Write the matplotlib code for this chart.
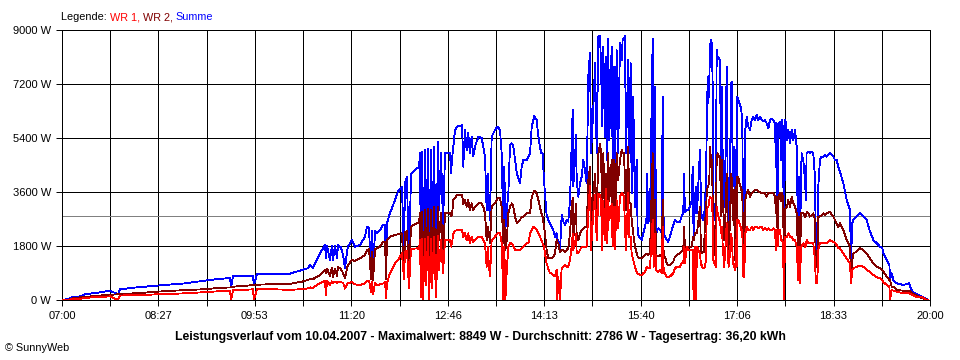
import matplotlib
matplotlib.use("Agg")
import matplotlib.pyplot as plt

# minutes after 07:00
t_min = [0.0, 5.4, 9.9, 16.2, 20.7, 32.3, 43.1, 50.3, 52.1, 63.8, 74.6, 85.4, 95.3, 110.5, 125.8, 140.2, 151.0, 151.9, 153.7, 164.4,
         171.6, 172.5, 175.2, 186.9, 195.9, 204.9, 215.7, 221.1, 222.9, 225.5, 227.3, 231.8, 236.3, 237.2, 238.1, 240.8, 242.6, 243.5, 245.3, 247.1,
         248.0, 250.7, 252.5, 254.3, 256.1, 257.0, 260.6, 263.3, 267.8, 272.3, 274.1, 275.9, 277.7, 278.6, 279.5, 281.3, 283.1, 285.8, 288.5, 290.3,
         291.2, 292.0, 294.7, 299.2, 301.9, 305.5, 307.3, 308.2, 310.0, 311.8, 313.6, 319.0, 320.8, 321.7, 322.6, 323.5, 324.4, 326.2, 327.1, 328.9,
         329.8, 331.6, 332.5, 334.3, 336.1, 337.9, 338.8, 340.6, 342.4, 344.2, 348.7, 349.6, 350.5, 351.6, 353.2, 355.0, 357.7, 359.5, 360.6, 362.1,
         363.6, 365.0, 366.6, 368.1, 369.6, 371.1, 374.1, 377.1, 378.6, 380.1, 381.6, 382.5, 383.7, 384.6, 386.1, 389.1, 391.2, 393.6, 395.1, 396.6,
         397.5, 398.4, 399.7, 401.1, 402.6, 404.2, 405.6, 407.1, 408.7, 411.6, 413.1, 414.6, 417.6, 419.1, 420.6, 422.1, 423.5, 424.4, 425.3, 426.5,
         428.1, 429.5, 430.7, 431.9, 433.1, 434.0, 435.5, 436.9, 438.5, 440.0, 441.5, 443.0, 444.5, 445.1, 446.0, 447.5, 449.0, 450.5, 452.0, 453.5,
         454.9, 456.5, 458.0, 458.9, 459.4, 461.0, 461.9, 462.5, 464.0, 465.5, 467.0, 468.5, 470.0, 471.5, 473.0, 474.5, 475.4, 477.4, 479.0, 480.5,
         482.0, 483.5, 484.4, 485.5, 486.4, 487.9, 488.8, 490.0, 490.9, 491.8, 493.0, 493.9, 494.8, 496.0, 496.9, 498.4, 499.8, 501.4, 502.9, 503.8,
         505.0, 505.9, 506.8, 508.8, 509.7, 511.0, 511.9, 513.3, 514.9, 516.4, 517.3, 519.4, 520.9, 522.3, 523.9, 525.4, 525.9, 526.8, 528.4, 529.9,
         530.8, 531.7, 532.9, 533.8, 535.8, 537.4, 538.9, 539.8, 540.7, 541.9, 543.4, 544.8, 546.3, 549.3, 550.8, 552.4, 555.3, 556.8, 558.3, 558.9,
         559.8, 561.3, 562.8, 564.3, 565.8, 566.7, 567.3, 567.9, 568.8, 569.7, 570.6, 573.3, 574.2, 574.8, 575.7, 576.9, 577.8, 578.7, 579.3, 580.2,
         580.8, 581.7, 582.3, 583.2, 584.1, 584.7, 585.3, 586.2, 586.8, 587.7, 588.3, 589.2, 590.4, 591.3, 592.2, 593.1, 593.7, 594.2, 595.1, 596.0,
         597.3, 598.2, 599.1, 600.3, 601.2, 602.1, 602.7, 603.6, 604.5, 605.0, 605.7, 606.3, 606.8, 607.7, 608.6, 609.9, 610.4, 611.3, 612.2, 613.1,
         614.0, 615.3, 616.7, 618.2, 619.8, 621.2, 622.7, 624.2, 625.7, 627.2, 628.7, 630.2, 631.7, 633.2, 634.7, 636.2, 637.7, 639.2, 640.7, 641.6,
         642.2, 643.1, 644.0, 645.2, 646.1, 647.0, 647.9, 648.8, 649.7, 650.6, 651.5, 652.7, 654.2, 655.7, 657.2, 658.7, 660.2, 661.6, 662.5, 663.2,
         664.1, 664.7, 666.1, 667.6, 668.5, 669.1, 670.6, 672.2, 673.7, 675.1, 676.6, 677.5, 678.7, 679.6, 681.1, 682.6, 684.1, 685.6, 687.1, 690.1,
         693.1, 694.6, 696.1, 697.6, 699.1, 702.1, 705.1, 706.6, 708.1, 709.0, 710.2, 711.1, 714.1, 717.1, 720.1, 723.1, 726.1, 729.1, 732.2, 735.1,
         737.2, 738.1, 741.1, 743.5, 744.1, 745.6, 747.1, 750.1, 756.1, 761.1, 764.1, 767.1, 773.1, 776.1, 778.2]

summe = [0, 30, 110, 120, 190, 245, 310, 190, 355, 410, 445, 477, 510, 555, 633, 700, 733, 422, 800, 800,
         800, 500, 867, 880, 870, 880, 1000, 1060, 1167, 1060, 1220, 1556, 1833, 1400, 1800, 1333, 1800, 1333, 1800, 1400,
         1833, 1750, 1500, 1056, 1600, 1778, 2000, 1778, 1830, 2111, 2444, 2400, 800, 2300, 900, 2300, 2220, 2330, 2500, 2500,
         900, 2560, 2890, 3333, 3611, 3780, 1500, 3900, 4100, 900, 4200, 4390, 4400, 4900, 800, 4950, 700, 5000, 1500, 5050,
         600, 5000, 1300, 5100, 700, 5280, 3000, 4890, 2500, 4890, 4890, 4220, 4700, 5110, 5670, 5780, 5800, 5830, 4444, 5670,
         5000, 5560, 4890, 5440, 4780, 5110, 5440, 5400, 5110, 4780, 3000, 4220, 3220, 2670, 5440, 5670, 5780, 5670, 4890, 2220,
         4440, 2330, 3000, 3555, 5170, 5220, 5110, 4670, 4220, 3890, 4440, 4670, 4670, 4780, 4890, 5780, 6000, 6130, 6050, 6000,
         5440, 5110, 4890, 4890, 4000, 3555, 2830, 2670, 2555, 2440, 2333, 2110, 2220, 2000, 2000, 1600, 2833, 2610, 2500, 2667,
         2610, 3330, 5220, 6350, 3780, 4670, 5500, 4000, 3440, 3890, 4110, 4670, 4330, 3890, 7500, 8250, 4890, 6330, 7890, 4890,
         8780, 8800, 7780, 5780, 8440, 5440, 8110, 4670, 8720, 5330, 7110, 8440, 4670, 7780, 4110, 8330, 4890, 8560, 8000, 8670,
         8720, 8800, 4890, 8000, 4890, 7890, 3560, 6780, 3110, 4670, 2220, 2055, 2000, 2220, 2440, 2780, 4220, 2560, 2780, 6670,
         8720, 2220, 7110, 2220, 2390, 2330, 2220, 6780, 2220, 2110, 2000, 1940, 2110, 2500, 2670, 2610, 2610, 2780, 2890, 4220,
         2940, 3000, 3000, 3110, 3300, 4440, 2670, 2000, 3440, 3780, 2890, 5000, 3220, 2830, 2670, 2830, 3110, 4110, 5440, 7440,
         6550, 7330, 8440, 8670, 8500, 7110, 3220, 2890, 2670, 4000, 8330, 8110, 8050, 8000, 4440, 7110, 4670, 4000, 3110, 4220,
         7780, 3670, 2670, 4220, 7220, 7280, 3780, 5110, 3110, 2220, 5000, 2670, 6780, 6670, 6560, 6440, 6330, 6000, 2000, 2000,
         5670, 6110, 5780, 5670, 6000, 6110, 6000, 6170, 6000, 6110, 6000, 5950, 6000, 5890, 5720, 6000, 6050, 6000, 5890, 4440,
         5890, 2670, 5890, 5950, 4670, 6000, 5670, 1110, 6000, 5890, 5330, 5670, 5220, 5670, 5330, 5670, 5110, 1670, 4110, 1555,
         4220, 4890, 4670, 4000, 3330, 4890, 4940, 4890, 4940, 4890, 4110, 1780, 1670, 3780, 4670, 4780, 4780, 4830, 4780, 4890,
         4780, 4670, 4670, 4440, 4278, 3889, 3333, 3167, 3000, 1333, 2556, 2667, 2778, 2889, 2778, 2667, 2278, 2000, 1889, 1778,
         1722, 1556, 1333, 1167, 667, 889, 667, 556, 500, 556, 278, 222, 111, 56, 0]

wr2 = [0, 10, 55, 90, 100, 145, 170, 190, 195, 222, 245, 278, 300, 330, 355, 400, 420, 420, 445, 470,
       500, 500, 510, 525, 530, 540, 611, 670, 700, 690, 740, 830, 1000, 900, 1050, 800, 1080, 750, 1050, 800,
       1100, 1030, 900, 722, 1050, 1167, 1333, 1300, 1390, 1500, 1667, 1700, 700, 1600, 650, 1700, 1720, 1780, 1950, 1950,
       700, 2000, 2110, 2170, 2190, 2220, 800, 2250, 2300, 800, 2450, 2556, 2600, 2900, 600, 2950, 500, 3000, 900, 3050,
       500, 3000, 800, 3100, 600, 3100, 2000, 2890, 1500, 2900, 2900, 2800, 2850, 3333, 3400, 3500, 3500, 3500, 3200, 3330,
       3110, 3330, 3000, 3220, 3000, 3110, 3220, 3220, 3110, 2890, 2000, 2440, 2220, 1890, 3110, 3220, 3390, 3390, 3110, 1890,
       2670, 1670, 2000, 2890, 3110, 3220, 3110, 2780, 2555, 2670, 2780, 2780, 2890, 2890, 2890, 3440, 3560, 3630, 3630, 3560,
       3330, 3110, 2890, 2780, 2440, 2220, 1670, 1390, 1390, 1390, 1450, 1555, 2000, 1890, 1890, 1600, 1670, 1670, 1610, 1670,
       1720, 2220, 3110, 3400, 2000, 2670, 3200, 2110, 2000, 2220, 2330, 2390, 2440, 2440, 4000, 4440, 2600, 3440, 4200, 2800,
       4890, 5220, 4900, 2700, 4890, 3000, 4200, 2800, 4890, 3300, 4000, 4670, 2800, 4670, 2330, 4890, 4000, 4670, 5000, 4890,
       4890, 4000, 3000, 5110, 3220, 3220, 2670, 2220, 1780, 1560, 1450, 1390, 1390, 1450, 1500, 1550, 1550, 1500, 1560, 3700,
       4890, 1560, 3330, 1500, 1450, 1500, 1450, 3330, 1450, 1440, 1220, 1170, 1170, 1280, 1440, 1500, 1560, 1610, 1670, 2440,
       1780, 1780, 1780, 1780, 1780, 2000, 2110, 2000, 2220, 2220, 2220, 3110, 1560, 1560, 1610, 1610, 2670, 2890, 3500, 3780,
       3780, 4000, 5110, 4670, 4670, 3330, 2670, 1780, 1500, 2500, 4780, 4890, 4780, 4780, 2800, 4670, 3110, 3110, 2000, 2670,
       4220, 2440, 1560, 2670, 4220, 4000, 2670, 3670, 2000, 1330, 3780, 1560, 4110, 4110, 3890, 3780, 3670, 3670, 1300, 1300,
       3330, 3560, 3670, 3440, 3560, 3610, 3670, 3670, 3610, 3610, 3560, 3560, 3560, 3440, 3560, 3560, 3560, 3560, 3440, 2890,
       3440, 2110, 3440, 3560, 3300, 3560, 3440, 1000, 3000, 3110, 3110, 3330, 3110, 3440, 3220, 3110, 2890, 1330, 2780, 1110,
       2890, 2890, 2890, 2780, 2780, 2940, 2890, 2780, 2830, 2890, 2670, 1110, 1110, 2780, 2780, 2830, 2890, 2830, 2890, 2940,
       2780, 2670, 2550, 2440, 2556, 2333, 2000, 1900, 1778, 889, 1333, 1556, 1611, 1722, 1667, 1556, 1389, 1222, 1111, 1056,
       1000, 950, 778, 667, 667, 444, 444, 333, 311, 311, 222, 167, 56, 22, 0]

wr1 = [0, 10, 30, 35, 70, 100, 120, 0, 150, 160, 170, 190, 200, 222, 255, 290, 300, 0, 333, 340,
       355, 0, 355, 360, 350, 340, 360, 390, 420, 400, 450, 560, 640, 150, 640, 500, 620, 560, 620, 570,
       620, 590, 580, 380, 520, 560, 600, 520, 500, 560, 640, 650, 250, 620, 200, 560, 500, 520, 550, 600,
       60, 560, 890, 1220, 1333, 1556, 700, 1600, 1650, 400, 1700, 1722, 1700, 2000, 100, 2050, 0, 2050, 500, 2100,
       0, 2050, 400, 2100, 100, 2150, 1000, 2000, 900, 2000, 2000, 1780, 1900, 2220, 2300, 2333, 2333, 2333, 2100, 2220,
       2000, 2220, 1890, 2110, 1940, 2000, 2110, 2110, 2000, 1890, 1110, 1780, 1110, 780, 2000, 2110, 2220, 2220, 1890, 0,
       1780, 0, 1000, 1780, 1890, 1890, 1780, 1670, 1670, 1670, 1720, 1780, 1890, 1890, 2220, 2333, 2440, 2440, 2390, 2333,
       2220, 2110, 2000, 1890, 1780, 1560, 1220, 1055, 890, 890, 830, 780, 1000, 0, 780, 0, 1055, 1110, 1170, 1110,
       1110, 1333, 1780, 2200, 1670, 1850, 2200, 1555, 1555, 1670, 1780, 1780, 1780, 1780, 3000, 3800, 1670, 2900, 3500, 2000,
       3550, 3500, 3300, 1670, 3300, 2000, 3700, 1880, 3300, 2670, 2900, 3200, 1780, 3100, 1700, 3330, 2400, 3440, 3560, 3560,
       3440, 2400, 1670, 3560, 2110, 2110, 1560, 1330, 1110, 940, 890, 833, 833, 890, 940, 1110, 1110, 1050, 1050, 2220,
       2670, 1110, 2220, 1000, 940, 1000, 890, 2440, 890, 890, 780, 780, 780, 890, 1050, 1110, 1110, 1220, 1220, 1780,
       1220, 1780, 1670, 1670, 1670, 1670, 440, 0, 1780, 0, 1780, 1555, 1170, 1170, 1055, 1055, 1110, 1333, 2670, 3110,
       3110, 3330, 3440, 3390, 3390, 2670, 1330, 1220, 1170, 1110, 3110, 2900, 2670, 2670, 2220, 2440, 1780, 1560, 1110, 1670,
       2560, 1560, 1110, 1560, 2220, 2000, 1330, 1110, 1110, 1000, 2000, 1110, 2670, 2670, 2560, 2440, 2330, 2330, 780, 780,
       2220, 2440, 2333, 2333, 2440, 2333, 2440, 2440, 2390, 2440, 2440, 2333, 2390, 2333, 2390, 2333, 2333, 2390, 2333, 1670,
       2333, 1780, 2333, 2333, 2000, 2000, 1890, 0, 2110, 2110, 2110, 2220, 2110, 2110, 2000, 2000, 1780, 670, 1780, 550,
       1780, 1780, 1890, 1780, 1780, 2000, 1890, 1890, 1890, 1890, 1330, 555, 555, 1670, 1890, 1890, 1890, 1890, 1890, 2000,
       1940, 1890, 1830, 1720, 1722, 1556, 1389, 1300, 1222, 556, 1000, 1056, 1111, 1133, 1111, 1000, 944, 833, 756, 722,
       667, 600, 500, 444, 0, 333, 311, 278, 222, 222, 167, 111, 89, 22, 0]

average_w = 2786
x_tick_labels = ["07:00", "08:27", "09:53", "11:20", "12:46", "14:13", "15:40", "17:06", "18:33", "20:00"]
y_ticks = [0, 1800, 3600, 5400, 7200, 9000]
y_tick_labels = ["0 W", "1800 W", "3600 W", "5400 W", "7200 W", "9000 W"]
legend_parts = [("Legende: ", "#000000"), ("WR 1, ", "#ff0000"), ("WR 2, ", "#800000"), ("Summe", "#0000ff")]
title_text = ("Leistungsverlauf vom 10.04.2007 - Maximalwert: 8849 W - "
              "Durchschnitt: 2786 W - Tagesertrag: 36,20 kWh")
copyright_text = "\u00a9 SunnyWeb"

plt.rcParams['font.family'] = ['Liberation Sans', 'DejaVu Sans']

W, H = 960, 360
fig = plt.figure(figsize=(W / 100, H / 100), dpi=100)
fig.patch.set_facecolor('white')
ax = fig.add_axes([62 / W, 60 / H, 868 / W, 270 / H])
span = 780.0
ax.set_xlim(0, span)
ax.set_ylim(0, 9000)

n_lab = len(x_tick_labels) - 1
major = [i * span / n_lab for i in range(n_lab + 1)]
minor = [(i + 0.5) * span / n_lab for i in range(n_lab)]
ax.set_xticks(major)
ax.set_xticklabels(x_tick_labels)
ax.set_xticks(minor, minor=True)
ax.set_yticks(y_ticks)
ax.set_yticklabels(y_tick_labels)
ax.tick_params(axis='both', which='both', direction='out', length=4, width=0.7,
               color='black', labelsize=8)
ax.tick_params(axis='y', pad=4)
ax.tick_params(axis='x', pad=4)

LW = 0.6
for xv in major + minor:
    ax.axvline(xv, color='black', lw=LW, antialiased=False, zorder=1)
for yv in y_ticks:
    ax.axhline(yv, color='black', lw=LW, antialiased=False, zorder=1)
ax.axhline(average_w, color='#808080', lw=LW, antialiased=False, zorder=1.5)

for sp in ax.spines.values():
    sp.set_color('black')
    sp.set_linewidth(LW)
    sp.set_antialiased(False)

ax.plot(t_min, summe, color='#0000ff', lw=LW, antialiased=False, zorder=2)
ax.plot(t_min, wr2, color='#800000', lw=LW, antialiased=False, zorder=3)
ax.plot(t_min, wr1, color='#ff0000', lw=LW, antialiased=False, zorder=4)

# legend built from coloured text pieces
fig.canvas.draw()
renderer = fig.canvas.get_renderer()
x0 = 61
for txt, col in legend_parts:
    tt = fig.text(x0 / W, 1 - 17 / H, txt, color=col, fontsize=7.8, va='center', ha='left')
    bb = tt.get_window_extent(renderer=renderer)
    x0 += bb.width

fig.text(480 / W, 1 - 337 / H, title_text, fontsize=8.8, fontweight='bold', ha='center', va='center')
fig.text(5 / W, 1 - 348 / H, copyright_text, fontsize=7.8, ha='left', va='center')

fig.savefig('out.png', dpi=100, facecolor='white')
